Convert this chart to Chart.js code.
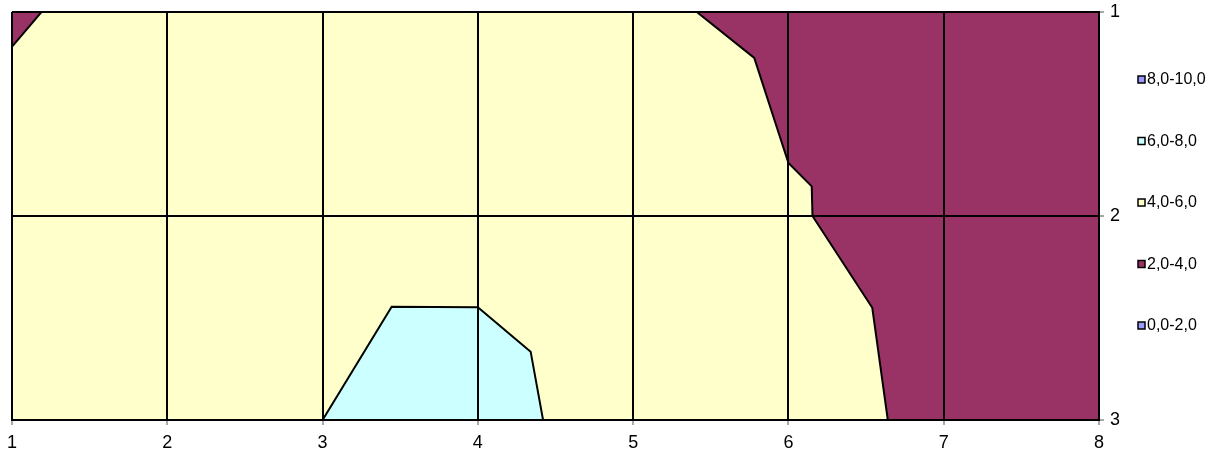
<!DOCTYPE html>
<html>
<head>
<meta charset="utf-8">
<script src="https://cdn.jsdelivr.net/npm/chart.js@4.4.1/dist/chart.umd.min.js"></script>
<style>
  html, body { margin: 0; padding: 0; background: #fff; }
  #wrap { width: 1218px; height: 453px; position: relative; }
</style>
</head>
<body>
<div id="wrap"><canvas id="contour"></canvas></div>
<script>
// axis ticks
const xTicks = [1, 2, 3, 4, 5, 6, 7, 8];
const yTicks = [1, 2, 3];
// legend, top to bottom
const legendLabels = ['8,0-10,0', '6,0-8,0', '4,0-6,0', '2,0-4,0', '0,0-2,0'];

// band 4,0-6,0 : whole surface
const fullX = [1, 8, 8, 1, 1];
const fullY = [1, 1, 3, 3, 1];
// band 2,0-4,0 : upper left corner
const cornerX = [1, 1.19, 1, 1];
const cornerY = [1, 1, 1.17, 1];
// band 2,0-4,0 : right side
const rightX = [5.41, 5.78, 6.0, 6.15, 6.155, 6.54, 6.64, 8, 8, 5.41];
const rightY = [1, 1.225, 1.74, 1.855, 2.0, 2.45, 3, 3, 1, 1];
// band 6,0-8,0 : bottom bump
const bumpX = [3, 3.445, 4.0, 4.34, 4.42, 3];
const bumpY = [3, 2.445, 2.447, 2.665, 3, 3];

const bandColors = {
  '8,0-10,0': '#9999FF',
  '6,0-8,0': '#CCFFFF',
  '4,0-6,0': '#FFFFCC',
  '2,0-4,0': '#993366',
  '0,0-2,0': '#9999FF'
};

const FONT = 'Liberation Sans, Arial, sans-serif';

function toPoints(xs, ys) {
  return xs.map((x, i) => ({ x: x, y: ys[i] }));
}

function polygon(xs, ys, band) {
  return {
    data: toPoints(xs, ys),
    showLine: true,
    fill: 'shape',
    backgroundColor: bandColors[band],
    borderColor: '#000',
    borderWidth: 2,
    pointRadius: 0,
    tension: 0
  };
}

// legend drawn next to the right axis
const contourLegend = {
  id: 'contourLegend',
  afterDraw(chart) {
    const ctx = chart.ctx;
    const area = chart.chartArea;
    ctx.save();
    ctx.font = '16px ' + FONT;
    ctx.textBaseline = 'middle';
    legendLabels.forEach((label, i) => {
      const y = area.top + 68 + i * 61.5;
      const x = area.right + 39;
      ctx.fillStyle = bandColors[label];
      ctx.fillRect(x, y - 4, 7, 7);
      ctx.strokeStyle = '#000';
      ctx.lineWidth = 1.5;
      ctx.strokeRect(x, y - 4, 7, 7);
      ctx.fillStyle = '#000';
      ctx.fillText(label, x + 9, y);
    });
    ctx.restore();
  }
};

function axisStyle() {
  return {
    grid: { color: '#000', lineWidth: 2, tickColor: '#555', tickWidth: 1, tickLength: 5, z: 1 },
    border: { color: '#000', width: 2, z: 1 }
  };
}

new Chart(document.getElementById('contour'), {
  type: 'scatter',
  data: {
    datasets: [
      polygon(bumpX, bumpY, '6,0-8,0'),
      polygon(rightX, rightY, '2,0-4,0'),
      polygon(cornerX, cornerY, '2,0-4,0'),
      polygon(fullX, fullY, '4,0-6,0')
    ]
  },
  options: {
    responsive: true,
    maintainAspectRatio: false,
    animation: false,
    layout: { padding: { left: 12, top: 12, right: 89, bottom: 0 } },
    plugins: {
      legend: { display: false },
      tooltip: { enabled: false }
    },
    scales: {
      x: Object.assign(axisStyle(), {
        type: 'linear',
        position: 'bottom',
        min: 1,
        max: 8,
        afterBuildTicks: (s) => { s.ticks = xTicks.map(v => ({ value: v })); },
        afterFit: (s) => { s.height = 33; s.paddingLeft = 0; s.paddingRight = 0; },
        ticks: { color: '#000', font: { family: FONT, size: 18 }, padding: 7, maxRotation: 0, z: 1 }
      }),
      y: Object.assign(axisStyle(), {
        type: 'linear',
        position: 'right',
        reverse: true,
        min: 1,
        max: 3,
        afterBuildTicks: (s) => { s.ticks = yTicks.map(v => ({ value: v })); },
        afterFit: (s) => { s.width = 30; s.paddingTop = 0; s.paddingBottom = 0; },
        ticks: { color: '#000', font: { family: FONT, size: 18 }, padding: 6, z: 1 }
      })
    }
  },
  plugins: [contourLegend]
});
</script>
</body>
</html>
